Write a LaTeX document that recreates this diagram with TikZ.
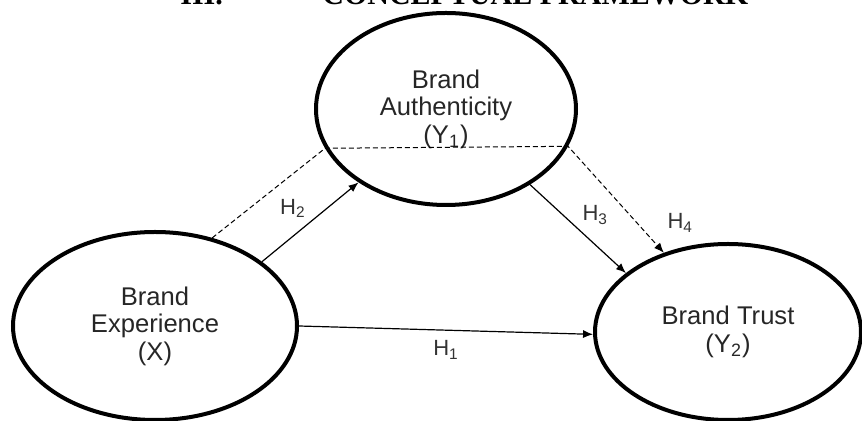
\documentclass[tikz,border=0pt]{standalone}
\usepackage{fontspec}
\setmainfont{Liberation Sans}
\newfontfamily\headfont{Liberation Serif}
\usetikzlibrary{shapes.geometric,arrows.meta}
\begin{document}
\begin{tikzpicture}[x=0.5pt, y=-0.5pt,
  construct/.style={ellipse, draw, line width=2pt, align=center, inner sep=0pt, text=black!85, font=\fontsize{12.8}{13.8}\selectfont},
  hyp/.style={-{Latex[length=5pt,width=4pt]}, line width=0.6pt},
  hlabel/.style={inner sep=1pt, text=black!80, font=\fontsize{11}{12}\selectfont},
  head/.style={anchor=base west, inner sep=0pt, font=\headfont\bfseries\fontsize{15}{18}\selectfont},
]
\clip (0,0) rectangle (862,421);
\useasboundingbox (0,0) rectangle (862,421);
% heading (cut at the top edge)
\node[head] (num) at (180,5) {III.};
\node[head] (title) at (322,5) {CONCEPTUAL FRAMEWORK};
% constructs
\node[construct, minimum width=130pt, minimum height=96pt] (auth) at (446,109) {Brand\\Authenticity\\(Y\textsubscript{1})};
\node[construct, minimum width=142pt, minimum height=94pt] (exper) at (155,326) {Brand\\Experience\\(X)};
\node[construct, minimum width=133pt, minimum height=88pt] (trust) at (728,332) {Brand Trust\\(Y\textsubscript{2})};
% hypotheses
\draw[hyp] (exper.east) -- (trust.181) node[hlabel, midway, below=4pt] {H\textsubscript{1}};
\draw[hyp] (exper.31) -- (auth.220) node[hlabel, midway, above left=1pt] {H\textsubscript{2}};
\draw[hyp] (auth.-42) -- (trust.150) node[hlabel, midway, above right=1pt] {H\textsubscript{3}};
\draw[hyp, line width=0.5pt, dash pattern=on 2.5pt off 1.5pt] (exper.57) -- (auth.198) -- (auth.-17) -- (trust.129)
  node[hlabel, pos=0.72, right=14pt] {H\textsubscript{4}};
\end{tikzpicture}
\end{document}
